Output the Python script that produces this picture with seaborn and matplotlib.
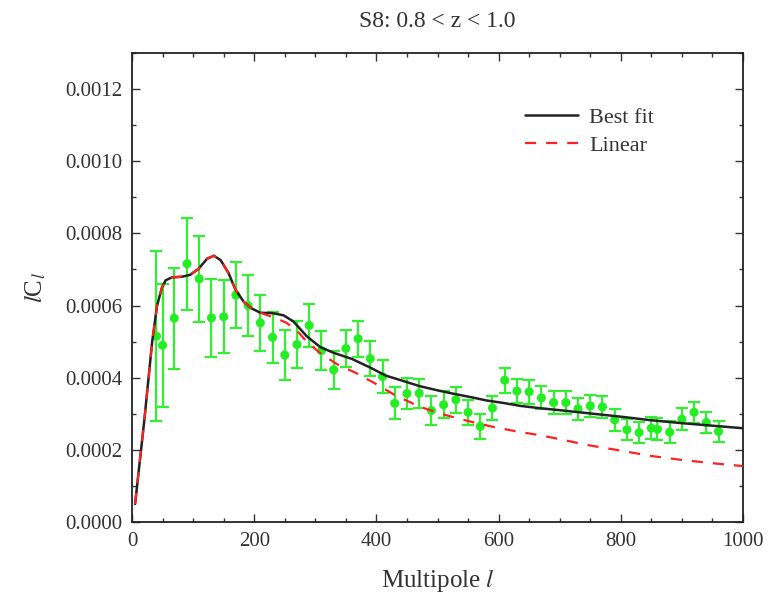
import numpy as np
import pandas as pd
import matplotlib
matplotlib.use("Agg")
import matplotlib.pyplot as plt
from matplotlib.ticker import MultipleLocator, FormatStrFormatter
import seaborn as sns

ell_data = [40, 50, 69, 90, 110, 130, 150, 170, 190, 210, 230, 250, 270, 290,
            310, 330, 350, 370, 390, 410, 430, 450, 470, 490, 510, 530, 550,
            570, 590, 610, 630, 650, 670, 690, 710, 730, 750, 770, 790, 810,
            830, 850, 860, 880, 900, 920, 940, 960]
cl_data = [0.000515, 0.000490, 0.000565, 0.000716, 0.000674, 0.000566, 0.000569,
           0.000629, 0.000600, 0.000552, 0.000512, 0.000463, 0.000492, 0.000545,
           0.000475, 0.000422, 0.000481, 0.000508, 0.000453, 0.000403, 0.000329,
           0.000356, 0.000357, 0.000309, 0.000325, 0.000339, 0.000304, 0.000265,
           0.000316, 0.000393, 0.000363, 0.000361, 0.000344, 0.000331, 0.000331,
           0.000314, 0.000322, 0.000319, 0.000283, 0.000256, 0.000248, 0.000260,
           0.000257, 0.000249, 0.000285, 0.000304, 0.000276, 0.000251]
cl_err = [0.000235, 0.000170, 0.000140, 0.000127, 0.000120, 0.000108, 0.000101,
          0.000091, 0.000084, 0.000078, 0.000071, 0.000068, 0.000065, 0.000059,
          0.000055, 0.000052, 0.000050, 0.000050, 0.000049, 0.000046, 0.000044,
          0.000042, 0.000040, 0.000039, 0.000037, 0.000036, 0.000035, 0.000035,
          0.000034, 0.000034, 0.000033, 0.000033, 0.000032, 0.000032, 0.000031,
          0.000031, 0.000030, 0.000030, 0.000030, 0.000030, 0.000030, 0.000030,
          0.000030, 0.000030, 0.000030, 0.000030, 0.000030, 0.000030]

# ---- model curves ----
ell_fit = [5, 20, 33, 41, 49, 55, 65, 82, 95, 109, 123, 134, 145, 158, 169, 183,
           196, 210, 230, 248, 264, 286, 308, 330, 360, 390, 415, 440, 470, 500,
           525, 555, 580, 608, 635, 665, 700, 750, 800, 850, 900, 950, 1000]
cl_fit = [0.000050, 0.000280, 0.000500, 0.000600, 0.000650, 0.000670, 0.000678,
          0.000680, 0.000685, 0.000702, 0.000730, 0.000738, 0.000726, 0.000690,
          0.000645, 0.000610, 0.000592, 0.000580, 0.000579, 0.000573, 0.000556,
          0.000515, 0.000485, 0.000469, 0.000452, 0.000428, 0.000406, 0.000393,
          0.000377, 0.000365, 0.000356, 0.000346, 0.000337, 0.000330, 0.000322,
          0.000316, 0.000310, 0.000301, 0.000292, 0.000282, 0.000274, 0.000267,
          0.000260]

ell_lin = [5, 20, 33, 41, 49, 55, 65, 82, 95, 109, 123, 134, 145, 158, 169, 183,
           196, 210, 234, 253, 270, 286, 308, 335, 368, 400, 430, 470, 510, 550,
           590, 630, 670, 710, 750, 800, 850, 900, 950, 1000]
cl_lin = [0.000050, 0.000280, 0.000500, 0.000600, 0.000650, 0.000670, 0.000678,
          0.000680, 0.000685, 0.000702, 0.000730, 0.000738, 0.000726, 0.000690,
          0.000645, 0.000610, 0.000592, 0.000580, 0.000566, 0.000552, 0.000530,
          0.000500, 0.000468, 0.000438, 0.000412, 0.000382, 0.000352, 0.000320,
          0.000298, 0.000280, 0.000264, 0.000251, 0.000240, 0.000226, 0.000212,
          0.000198, 0.000183, 0.000172, 0.000163, 0.000155]

sns.set_style("ticks")
plt.rcParams['font.family'] = ['Liberation Serif', 'DejaVu Serif']
plt.rcParams['mathtext.fontset'] = 'stix'
plt.rcParams['font.size'] = 12

fig = plt.figure(figsize=(7.78, 6.01), dpi=100)
ax = fig.add_axes([0.1697, 0.1314, 0.7853, 0.7804])

data = pd.DataFrame({"ell": ell_data, "cl": cl_data, "err": cl_err})
fit = pd.DataFrame({"ell": ell_fit, "cl": cl_fit})
lin = pd.DataFrame({"ell": ell_lin, "cl": cl_lin})

ax.errorbar(data["ell"], data["cl"], yerr=data["err"], fmt="none",
            ecolor="#33ee33", elinewidth=1.6, capsize=4.5, capthick=1.6, zorder=2)
sns.scatterplot(data=data, x="ell", y="cl", color="#22ee22", s=42,
                edgecolor="none", ax=ax, zorder=3)
sns.lineplot(data=fit, x="ell", y="cl", color="#222222", lw=1.8, ax=ax,
             label="Best fit", zorder=4)
sns.lineplot(data=lin, x="ell", y="cl", color="#ff2020", lw=1.6, ax=ax,
             label="Linear", zorder=5)
ax.lines[-1].set_linestyle((0, (5, 4.5)))

ax.set_xlim(0, 1000)
ax.set_ylim(0, 0.0013)
ax.xaxis.set_major_locator(MultipleLocator(200))
ax.xaxis.set_minor_locator(MultipleLocator(50))
ax.yaxis.set_major_locator(MultipleLocator(0.0002))
ax.yaxis.set_minor_locator(MultipleLocator(0.0001))
ax.yaxis.set_major_formatter(FormatStrFormatter("%.4f"))
ax.tick_params(which="both", direction="in", top=True, right=True,
               labelsize=15, colors="#333333", width=1.0, pad=7)
ax.tick_params(which="major", length=6)
ax.tick_params(which="minor", length=3)
for s in ax.spines.values():
    s.set_linewidth(1.3)
    s.set_color("#222222")

ax.set_xlabel("Multipole $l$", fontsize=18, color="#333333", labelpad=12)
ax.set_ylabel("$l$C$_l$", fontsize=18, color="#333333", labelpad=12)
ax.set_title("S8: 0.8 < z < 1.0", fontsize=17, color="#333333", pad=19)

leg = ax.legend(loc="upper left", bbox_to_anchor=(0.643, 0.885), frameon=False,
                fontsize=16, handlelength=2.4, handletextpad=0.5,
                labelspacing=0.35, borderpad=0, borderaxespad=0)
for t in leg.get_texts():
    t.set_color("#333333")

fig.savefig("out.png", dpi=100)
